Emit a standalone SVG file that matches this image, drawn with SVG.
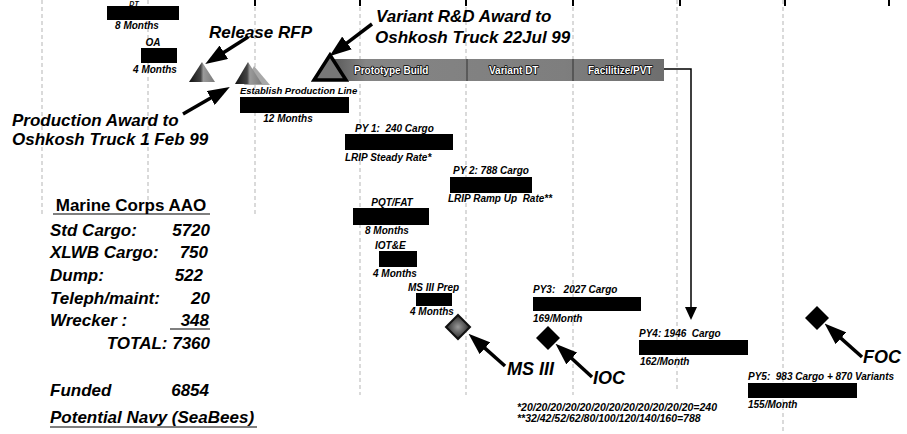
<svg xmlns="http://www.w3.org/2000/svg" width="907" height="434" viewBox="0 0 907 434">
<defs>
<style>
.big{font-family:"Liberation Sans",Arial,sans-serif;font-style:italic;font-weight:bold;font-size:17px;fill:#000}
.ms{font-family:"Liberation Sans",Arial,sans-serif;font-style:italic;font-weight:bold;font-size:18px;fill:#000}
.lbl{font-family:"Liberation Sans",Arial,sans-serif;font-style:italic;font-weight:bold;font-size:10px;fill:#000}
.hd{font-family:"Liberation Sans",Arial,sans-serif;font-weight:bold;font-size:17px;fill:#000}
.bt{font-family:"Liberation Sans",Arial,sans-serif;font-weight:bold;font-size:10px;fill:#fff;stroke:#000;stroke-width:1.6;paint-order:stroke;stroke-linejoin:round}
.bar{fill:#000}
.grid{stroke:#b5b5b5;stroke-width:1;stroke-dasharray:4 3;fill:none}
.tick{stroke:#000;stroke-width:2}
.arr{stroke:#000;stroke-width:3.5;fill:none;marker-end:url(#ah)}
.conn{stroke:#000;stroke-width:1.5;fill:none;marker-end:url(#th)}
.ul{stroke:#000;stroke-width:1.2}
</style>
<marker id="ah" markerUnits="userSpaceOnUse" viewBox="0 0 22 16" markerWidth="22" markerHeight="16" refX="4" refY="8" orient="auto"><path d="M0,0 L22,8 L0,16 z" fill="#000"/></marker>
<marker id="th" markerUnits="userSpaceOnUse" viewBox="0 0 13 12" markerWidth="13" markerHeight="12" refX="0" refY="6" orient="auto"><path d="M0,0 L13,6 L0,12 z" fill="#000"/></marker>
<linearGradient id="gbar" x1="0" y1="0" x2="1" y2="0">
<stop offset="0" stop-color="#5a5a5a"/><stop offset="0.1" stop-color="#858585"/><stop offset="0.7" stop-color="#7e7e7e"/><stop offset="1" stop-color="#6e6e6e"/>
</linearGradient>
<linearGradient id="gtri" x1="0" y1="0" x2="1" y2="0">
<stop offset="0" stop-color="#111"/><stop offset="0.45" stop-color="#444"/><stop offset="0.55" stop-color="#9a9a9a"/><stop offset="1" stop-color="#7a7a7a"/>
</linearGradient>
<radialGradient id="gdia">
<stop offset="0" stop-color="#999"/><stop offset="0.6" stop-color="#555"/><stop offset="1" stop-color="#222"/>
</radialGradient>
</defs>
<rect width="907" height="434" fill="#fff"/>

<g id="grid">
<line class="grid" x1="42" y1="0" x2="42" y2="215"/>
<line class="grid" x1="148" y1="0" x2="148" y2="215"/>
<line class="grid" x1="255" y1="0" x2="255" y2="215"/>
<line class="grid" x1="360" y1="0" x2="360" y2="395"/>
<line class="grid" x1="466" y1="0" x2="466" y2="395"/>
<line class="grid" x1="573" y1="0" x2="573" y2="395"/>
<line class="grid" x1="677" y1="0" x2="677" y2="390"/>
<line class="grid" x1="783" y1="0" x2="783" y2="434"/>
<line class="tick" x1="255" y1="0" x2="255" y2="6"/>
<line class="tick" x1="360" y1="0" x2="360" y2="6"/>
<line class="tick" x1="466" y1="0" x2="466" y2="6"/>
<line class="tick" x1="573" y1="0" x2="573" y2="6"/>
<line class="tick" x1="680" y1="0" x2="680" y2="6"/>
<line class="tick" x1="785" y1="0" x2="785" y2="6"/>
<line class="tick" x1="889" y1="0" x2="889" y2="6"/>
</g>

<g id="dt">
<text class="lbl" x="134" y="5.5" text-anchor="middle" style="font-size:7px">DT</text>
<rect class="bar" x="107" y="6" width="72" height="14"/>
<text class="lbl" x="137" y="29" text-anchor="middle">8 Months</text>
</g>

<g id="oa">
<text class="lbl" x="153" y="46" text-anchor="middle">OA</text>
<rect class="bar" x="141" y="48" width="36" height="15"/>
<text class="lbl" x="155" y="73" text-anchor="middle">4 Months</text>
</g>

<g id="release-rfp">
<polygon points="202,62 189,82 215,82" fill="url(#gtri)"/>
<text class="big" x="209" y="38">Release RFP</text>
</g>

<g id="production-award">
<polygon points="254,66 244,85 270,85" fill="#a8a8a8"/>
<polygon points="248,62 235,84 262,84" fill="url(#gtri)"/>
<text class="big" x="12" y="126">Production Award to</text>
<text class="big" x="12" y="145">Oshkosh Truck 1 Feb 99</text>
</g>

<g id="establish-line">
<text class="lbl" x="240" y="94" style="font-size:9.5px">Establish Production Line</text>
<rect class="bar" x="240" y="97" width="109" height="16"/>
<text class="lbl" x="288" y="122" text-anchor="middle">12 Months</text>
</g>

<g id="variant">
<text class="big" x="376" y="22">Variant R&amp;D Award to</text>
<text class="big" x="375" y="43">Oshkosh Truck 22Jul 99</text>
<rect x="333" y="59" width="331" height="22" fill="url(#gbar)"/>
<line x1="467" y1="59" x2="467" y2="81" stroke="#333" stroke-width="1"/>
<line x1="573" y1="59" x2="573" y2="81" stroke="#333" stroke-width="1"/>
<polygon points="330,55 314,80 346,80" fill="#777" stroke="#000" stroke-width="3.5" stroke-linejoin="miter"/>
<text class="bt" x="354" y="74">Prototype Build</text>
<text class="bt" x="489" y="74">Variant DT</text>
<text class="bt" x="588" y="74">Facilitize/PVT</text>
</g>

<g id="py1">
<text class="lbl" x="355" y="132" xml:space="preserve">PY 1:  240 Cargo</text>
<rect class="bar" x="345" y="134" width="108" height="16"/>
<text class="lbl" x="345" y="161">LRIP Steady Rate*</text>
</g>

<g id="py2">
<text class="lbl" x="453" y="174">PY 2: 788 Cargo</text>
<rect class="bar" x="450" y="177" width="82" height="16"/>
<text class="lbl" x="448" y="202" xml:space="preserve">LRIP Ramp Up  Rate**</text>
</g>

<g id="pqt">
<text class="lbl" x="392" y="206" text-anchor="middle">PQT/FAT</text>
<rect class="bar" x="353" y="208" width="76" height="17"/>
<text class="lbl" x="365" y="234">8 Months</text>
</g>

<g id="iote">
<text class="lbl" x="375" y="249">IOT&amp;E</text>
<rect class="bar" x="379" y="251" width="38" height="16"/>
<text class="lbl" x="373" y="277">4 Months</text>
</g>

<g id="ms3prep">
<text class="lbl" x="408" y="291">MS III Prep</text>
<rect class="bar" x="416" y="293" width="36" height="13"/>
<text class="lbl" x="410" y="315">4 Months</text>
</g>

<g id="ms3">
<polygon points="458,315 470,327 458,339 446,327" fill="url(#gdia)" stroke="#111" stroke-width="2"/>
<text class="ms" x="507" y="375">MS III</text>
</g>

<g id="py3">
<text class="lbl" x="533" y="293" xml:space="preserve">PY3:   2027 Cargo</text>
<rect class="bar" x="533" y="297" width="108" height="14"/>
<text class="lbl" x="533" y="322">169/Month</text>
</g>

<g id="ioc">
<polygon points="548,326 560,338 548,350 536,338" fill="#000"/>
<text class="ms" x="593" y="384">IOC</text>
</g>

<g id="py4">
<text class="lbl" x="639" y="337" xml:space="preserve">PY4: 1946  Cargo</text>
<rect class="bar" x="639" y="340" width="109" height="15"/>
<text class="lbl" x="640" y="365">162/Month</text>
</g>

<g id="py5">
<text class="lbl" x="748" y="380" xml:space="preserve">PY5:  983 Cargo + 870 Variants</text>
<rect class="bar" x="748" y="383" width="109" height="15"/>
<text class="lbl" x="748" y="408">155/Month</text>
</g>

<g id="foc">
<polygon points="817,306 829,318 817,330 805,318" fill="#000"/>
<text class="ms" x="863" y="363">FOC</text>
</g>

<g id="footnotes">
<text class="lbl" x="517" y="411" style="font-size:10.5px">*20/20/20/20/20/20/20/20/20/20/20/20=240</text>
<text class="lbl" x="517" y="422" style="font-size:10.5px">**32/42/52/62/80/100/120/140/160=788</text>
</g>

<g id="aao">
<text class="hd" x="131" y="211" text-anchor="middle">Marine Corps AAO</text>
<line class="ul" x1="53" y1="214" x2="210" y2="214"/>
<text class="big" x="50" y="236">Std Cargo:</text><text class="big" x="210" y="236" text-anchor="end">5720</text>
<text class="big" x="50" y="258">XLWB Cargo:</text><text class="big" x="208" y="258" text-anchor="end">750</text>
<text class="big" x="50" y="281">Dump:</text><text class="big" x="203" y="281" text-anchor="end">522</text>
<text class="big" x="50" y="304">Teleph/maint:</text><text class="big" x="210" y="304" text-anchor="end">20</text>
<text class="big" x="50" y="326">Wrecker :</text><text class="big" x="209" y="326" text-anchor="end">348</text>
<line class="ul" x1="170" y1="329" x2="210" y2="329"/>
<text class="big" x="210" y="349" text-anchor="end">TOTAL: 7360</text>
<text class="big" x="50" y="396">Funded</text><text class="big" x="209" y="396" text-anchor="end">6854</text>
<text class="big" x="50" y="423">Potential Navy (SeaBees)</text>
<line class="ul" x1="50" y1="427" x2="257" y2="427"/>
</g>

<g id="connectors">
<line class="arr" x1="248" y1="37" x2="220.5" y2="54.4"/>
<line class="arr" x1="183" y1="114" x2="214.2" y2="96"/>
<line class="arr" x1="372" y1="24" x2="343.8" y2="45.4"/>
<line class="arr" x1="505" y1="366" x2="482" y2="345.6"/>
<line class="arr" x1="592" y1="377" x2="568.8" y2="355.8"/>
<line class="arr" x1="862" y1="357" x2="838" y2="335.6"/>
<polyline class="conn" points="664,69 691,69 691,307"/>
</g>
</svg>
